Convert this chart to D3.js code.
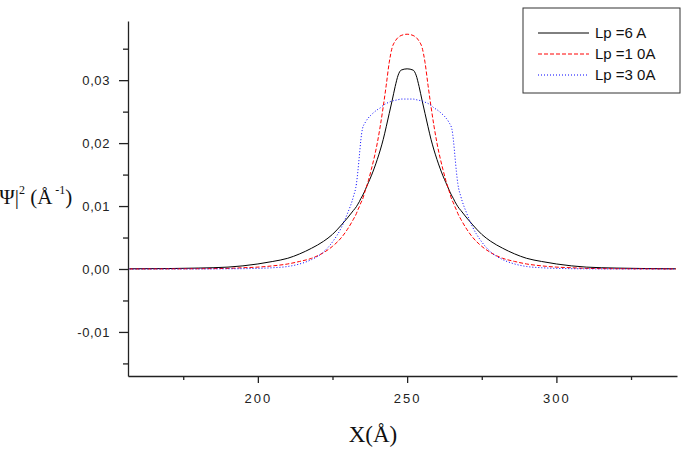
<!DOCTYPE html>
<html>
<head>
<meta charset="utf-8">
<script src="https://cdn.jsdelivr.net/npm/d3@7"></script>
<style>
  body { margin: 0; background: #fff; }
  svg { display: block; }
  .tick text { font-family: "Liberation Sans", Arial, sans-serif; fill: #222; }
</style>
</head>
<body>
<svg id="chart" width="686" height="452"></svg>
<script>
// positions along X (Å)
const xs = [157, 170, 180, 190, 195, 200, 205, 210, 214, 218, 222, 225, 228, 230, 232, 233, 233.5, 234, 234.5, 235,
  236, 237, 238, 240, 241, 242, 243, 244, 245, 246, 247, 248, 250, 252, 253, 254, 255, 256, 257, 258, 259, 260,
  262, 263, 264, 265, 265.5, 266, 266.5, 267, 268, 270, 272, 275, 278, 282, 286, 290, 295, 300, 305, 310, 320, 330, 340];

// |Psi|^2
const lp6 = [0.00003, 0.00007, 0.00015, 0.0003, 0.0005, 0.0008, 0.0012, 0.0017, 0.0024, 0.0033, 0.0044, 0.0055, 0.0070, 0.0081, 0.0093, 0.0099, 0.0103, 0.0107, 0.0112, 0.0116,
  0.0126, 0.0137, 0.0148, 0.0174, 0.0189, 0.0206, 0.0226, 0.0247, 0.0268, 0.0290, 0.0308, 0.0316, 0.0318, 0.0316, 0.0308, 0.0290, 0.0268, 0.0247, 0.0226, 0.0206, 0.0189, 0.0174,
  0.0148, 0.0137, 0.0126, 0.0116, 0.0112, 0.0107, 0.0103, 0.0099, 0.0093, 0.0081, 0.0070, 0.0055, 0.0044, 0.0033, 0.0024, 0.0017, 0.0012, 0.0008, 0.0005, 0.0003, 0.00015, 0.00007, 0.00003];

const lp10 = [0.00001, 0.00002, 0.00004, 0.0001, 0.0002, 0.0003, 0.0005, 0.0008, 0.0012, 0.0017, 0.0026, 0.0036, 0.0050, 0.0063, 0.0079, 0.0088, 0.0094, 0.0099, 0.0105, 0.0110,
  0.0125, 0.0140, 0.0158, 0.0200, 0.0227, 0.0258, 0.0292, 0.0328, 0.0352, 0.0362, 0.0368, 0.0371, 0.0373, 0.0371, 0.0368, 0.0362, 0.0352, 0.0328, 0.0292, 0.0258, 0.0227, 0.0200,
  0.0158, 0.0140, 0.0125, 0.0110, 0.0105, 0.0099, 0.0094, 0.0088, 0.0079, 0.0063, 0.0050, 0.0036, 0.0026, 0.0017, 0.0012, 0.0008, 0.0005, 0.0003, 0.0002, 0.0001, 0.00004, 0.00002, 0.00001];

const lp30 = [0, 0.00001, 0.00001, 0.00003, 0.00005, 0.0001, 0.0002, 0.0004, 0.0008, 0.0015, 0.0027, 0.0043, 0.0066, 0.0088, 0.0115, 0.0135, 0.0155, 0.0180, 0.0205, 0.0222,
  0.0233, 0.0240, 0.0245, 0.0253, 0.0256, 0.0260, 0.0263, 0.0265, 0.0267, 0.0268, 0.0269, 0.0270, 0.0270, 0.0270, 0.0269, 0.0268, 0.0267, 0.0265, 0.0263, 0.0260, 0.0256, 0.0253,
  0.0245, 0.0240, 0.0233, 0.0222, 0.0205, 0.0180, 0.0155, 0.0135, 0.0115, 0.0088, 0.0066, 0.0043, 0.0027, 0.0015, 0.0008, 0.0004, 0.0002, 0.0001, 0.00005, 0.00003, 0.00001, 0.00001, 0];

const seriesNames = ["Lp =6 A", "Lp =1 0A", "Lp =3 0A"];
const xTicks = [200, 250, 300];
const xMinor = [175, 225, 275, 325];
const yTicks = [-0.01, 0, 0.01, 0.02, 0.03];
const yMinor = [-0.015, -0.005, 0.005, 0.015, 0.025, 0.035];

const svg = d3.select("#chart");

let x = d3.scaleLinear().domain([156.5, 340.4]).range([128, 677]);
let y = d3.scaleLinear().domain([-0.017, 0.0394]).range([376, 21]);

const fmt = d => d3.format(".2f")(d).replace(".", ",").replace("−", "-");

// minor ticks first so the major axis draws over them
svg.append("g")
  .attr("transform", "translate(128,0)")
  .call(d3.axisLeft(y).tickValues(yMinor).tickSize(5).tickSizeOuter(0).tickFormat(""))
  .call(g => g.select(".domain").remove())
  .selectAll("line").attr("stroke", "#222");

svg.append("g")
  .attr("transform", "translate(0,376)")
  .call(d3.axisBottom(x).tickValues(xMinor).tickSize(4).tickSizeOuter(0).tickFormat(""))
  .call(g => g.select(".domain").remove())
  .selectAll("line").attr("stroke", "#222");

let yAxisGroup = svg.append("g")
  .attr("transform", "translate(128,0)")
  .call(d3.axisLeft(y).tickValues(yTicks).tickSize(9).tickSizeOuter(0).tickPadding(9).tickFormat(fmt));
yAxisGroup.selectAll("text").attr("font-size", "13px").attr("letter-spacing", "0.6px");

let xAxisGroup = svg.append("g")
  .attr("transform", "translate(0,376)")
  .call(d3.axisBottom(x).tickValues(xTicks).tickSize(7).tickSizeOuter(0).tickPadding(11).tickFormat(d3.format("d")));
xAxisGroup.selectAll("text").attr("font-size", "13px").attr("letter-spacing", "2px");

svg.selectAll(".domain").attr("stroke", "#222").attr("stroke-width", 1.3);
svg.selectAll(".tick line").attr("stroke", "#222").attr("stroke-width", 1.3);

// curves
const line = d3.line()
  .x(d => x(d[0]))
  .y(d => y(d[1]))
  .curve(d3.curveMonotoneX);

const styles = [
  { data: lp6, color: "#000", dash: null },
  { data: lp10, color: "#ff0000", dash: "4,2" },
  { data: lp30, color: "#0000ff", dash: "1,2" }
];

styles.forEach(s => {
  svg.append("path")
    .datum(xs.map((v, i) => [v, s.data[i]]))
    .attr("fill", "none")
    .attr("stroke", s.color)
    .attr("stroke-width", 1)
    .attr("stroke-dasharray", s.dash)
    .attr("d", line);
});

// legend
const legend = svg.append("g");
legend.append("rect")
  .attr("x", 523).attr("y", 8).attr("width", 157).attr("height", 85)
  .attr("fill", "#fff").attr("stroke", "#333").attr("stroke-width", 1);

styles.forEach((s, i) => {
  const ly = 33 + i * 21;
  legend.append("line")
    .attr("x1", 538).attr("x2", 589).attr("y1", ly).attr("y2", ly)
    .attr("stroke", s.color).attr("stroke-width", 1)
    .attr("stroke-dasharray", s.dash);
  legend.append("text")
    .attr("x", 595).attr("y", ly + 5)
    .attr("font-family", "Liberation Sans, Arial, sans-serif")
    .attr("font-size", "15px")
    .attr("fill", "#111")
    .text(seriesNames[i]);
});

// axis titles
svg.append("text")
  .attr("x", 373).attr("y", 442)
  .attr("text-anchor", "middle")
  .attr("font-family", "Liberation Serif, Times New Roman, serif")
  .attr("font-size", "23px")
  .attr("fill", "#111")
  .text("X(Å)");

// y title runs off the left edge, as in the original
let yLabel = svg.append("text")
  .attr("x", -5).attr("y", 204)
  .attr("font-family", "Liberation Serif, Times New Roman, serif")
  .attr("font-size", "21px")
  .attr("fill", "#111");
yLabel.append("tspan").text("|Ψ|");
yLabel.append("tspan").attr("dy", -10).attr("font-size", "12px").text("2");
yLabel.append("tspan").attr("dy", 10).text(" (Å");
yLabel.append("tspan").attr("dy", -10).attr("font-size", "12px").text(" -1");
yLabel.append("tspan").attr("dy", 10).text(")");
</script>
</body>
</html>
